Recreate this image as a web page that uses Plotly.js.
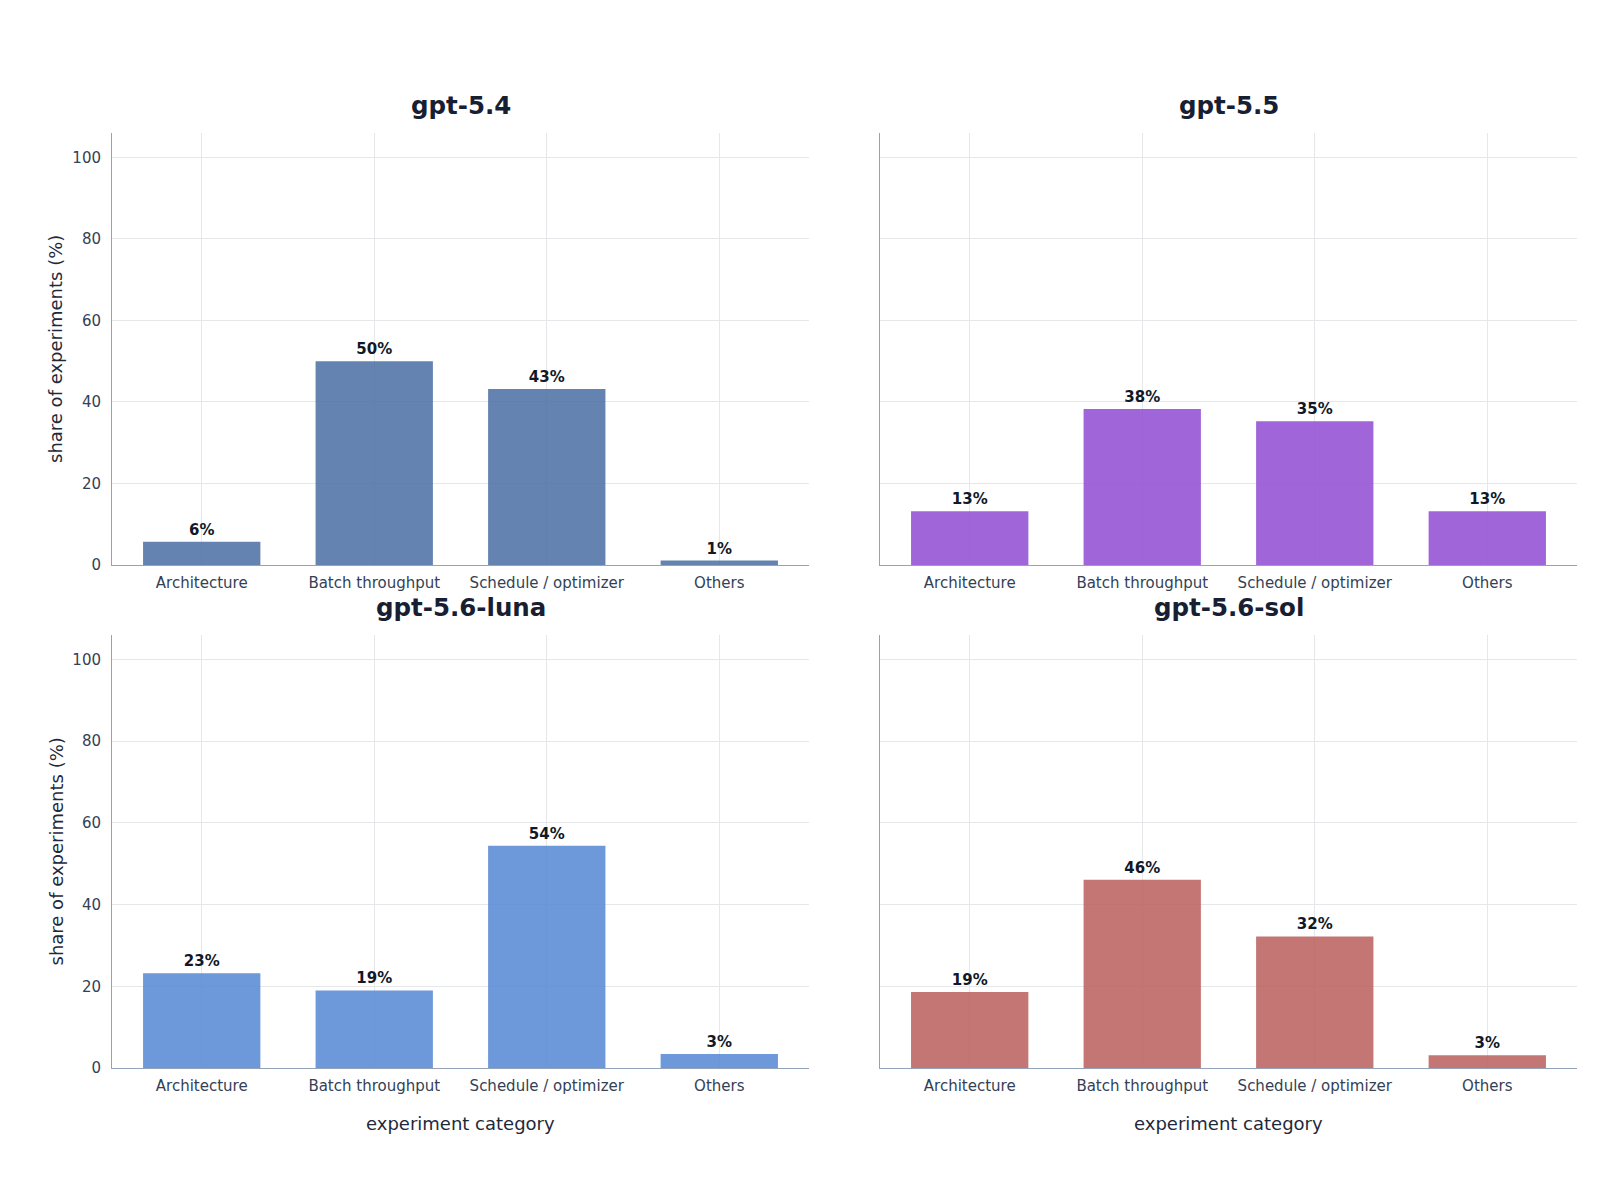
<!DOCTYPE html>
<html>
<head>
<meta charset="utf-8">
<script src="https://cdn.plot.ly/plotly-3.0.1.min.js"></script>
<style>html,body{margin:0;padding:0;background:#fff;}#chart{width:1600px;height:1200px;}</style>
</head>
<body>
<div id="chart"></div>
<script>
const categories = ["Architecture", "Batch throughput", "Schedule / optimizer", "Others"];
const models = ["gpt-5.4", "gpt-5.5", "gpt-5.6-luna", "gpt-5.6-sol"];
const gpt54 = [5.7, 50.0, 43.2, 1.1];
const gpt55 = [13.2, 38.3, 35.3, 13.2];
const gpt56luna = [23.2, 19.0, 54.4, 3.4];
const gpt56sol = [18.6, 46.1, 32.2, 3.1];
const colors = ["#4f72a5", "#9351d4", "#598ad5", "#bc6361"];

const series = [gpt54, gpt55, gpt56luna, gpt56sol];
const W = 1600, H = 1200;
const xDomains = [[112 / W, 809 / W], [880 / W, 1577 / W]];
const yDomains = [[1 - 565 / H, 1 - 133 / H], [1 - 1068 / H, 1 - 635 / H]];

const FONT = "DejaVu Sans, Verdana, sans-serif";
const traces = [];
const layout = {
  width: W, height: H,
  margin: {l: 0, r: 0, t: 0, b: 0},
  paper_bgcolor: "#ffffff",
  plot_bgcolor: "#ffffff",
  showlegend: false,
  font: {family: FONT, color: "#334155"},
  annotations: []
};

series.forEach((vals, i) => {
  const row = Math.floor(i / 2), col = i % 2;
  const n = i + 1;
  const xa = n === 1 ? "x" : "x" + n;
  const ya = n === 1 ? "y" : "y" + n;
  traces.push({
    type: "bar",
    x: categories,
    y: vals,
    xaxis: xa, yaxis: ya,
    marker: {color: colors[i], opacity: 0.88, line: {width: 0}},
    texttemplate: "%{y:.0f}%",
    textposition: "outside",
    textfont: {family: FONT, size: 15, color: "#111827", weight: "bold"},
    cliponaxis: false,
    hoverinfo: "skip"
  });
  const xKey = n === 1 ? "xaxis" : "xaxis" + n;
  const yKey = n === 1 ? "yaxis" : "yaxis" + n;
  layout[xKey] = {
    domain: xDomains[col],
    anchor: ya,
    type: "category",
    range: [-0.52, 3.52],
    showgrid: true,
    gridcolor: "#e5e7eb",
    gridwidth: 1,
    showline: true,
    linecolor: "#94a3b8",
    linewidth: 1,
    ticks: "",
    ticklabelstandoff: 4,
    tickfont: {family: FONT, size: 15, color: "#334155"},
    zeroline: false,
    fixedrange: true
  };
  layout[yKey] = {
    domain: yDomains[row],
    anchor: xa,
    range: [0, 106],
    tickvals: [0, 20, 40, 60, 80, 100],
    showticklabels: col === 0,
    showgrid: true,
    gridcolor: "#e5e7eb",
    gridwidth: 1,
    showline: true,
    linecolor: "#94a3b8",
    linewidth: 1,
    ticks: "",
    ticklabelstandoff: 7,
    tickfont: {family: FONT, size: 15, color: "#334155"},
    zeroline: false,
    fixedrange: true
  };
  const cx = (xDomains[col][0] + xDomains[col][1]) / 2;
  layout.annotations.push({
    text: "<b>" + models[i] + "</b>",
    x: cx, y: row === 0 ? 1 - 105 / H : 1 - 607 / H,
    xref: "paper", yref: "paper", xanchor: "center", yanchor: "middle",
    showarrow: false,
    font: {family: FONT, size: 24.5, color: "#172033"}
  });
  if (row === 1) {
    layout.annotations.push({
      text: "experiment category",
      x: cx, y: 1 - 1123 / H,
      xref: "paper", yref: "paper", xanchor: "center", yanchor: "middle",
      showarrow: false,
      font: {family: FONT, size: 18, color: "#1e293b"}
    });
  }
  if (col === 0) {
    layout.annotations.push({
      text: "share of experiments (%)",
      x: 56 / W, y: (yDomains[row][0] + yDomains[row][1]) / 2,
      xref: "paper", yref: "paper", xanchor: "center", yanchor: "middle",
      textangle: -90,
      showarrow: false,
      font: {family: FONT, size: 18, color: "#1e293b"}
    });
  }
});

layout.bargap = 0.32;

Plotly.newPlot("chart", traces, layout, {displayModeBar: false, staticPlot: true});
</script>
</body>
</html>
